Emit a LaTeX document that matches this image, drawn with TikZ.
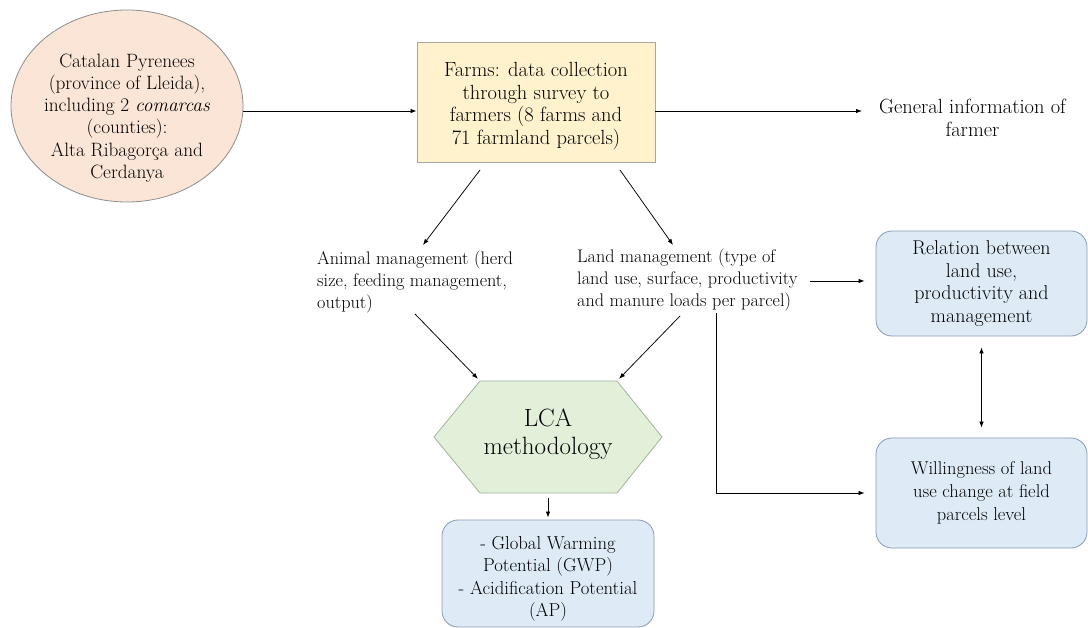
\documentclass[tikz,border=0pt]{standalone}
\usetikzlibrary{arrows.meta,shapes.geometric}

\definecolor{peachfill}{HTML}{FBE5D6}
\definecolor{peachline}{HTML}{8E8E8E}
\definecolor{creamfill}{HTML}{FFF2CC}
\definecolor{creamline}{HTML}{A6A6A6}
\definecolor{sagefill}{HTML}{E2F0D9}
\definecolor{sageline}{HTML}{A3B39B}
\definecolor{skyfill}{HTML}{DEEBF7}
\definecolor{skyline}{HTML}{8A9BB3}

\tikzset{
  txt/.style={font=\fontsize{19.5}{22.8}\selectfont, align=center, inner sep=0pt},
  midtxt/.style={font=\fontsize{18.2}{22}\selectfont, align=left, inner sep=0pt},
  region/.style={ellipse, draw=peachline, fill=peachfill, line width=0.8pt, inner sep=0pt},
  survey/.style={txt, rectangle, draw=creamline, fill=creamfill, line width=0.9pt},
  skybox/.style={txt, rectangle, rounded corners=16pt, draw=skyline, fill=skyfill, line width=0.8pt},
  hexa/.style={draw=sageline, fill=sagefill, line width=0.8pt},
  arr/.style={-{Latex[length=6pt,width=4.5pt]}, line width=0.75pt, black},
  dblarr/.style={{Latex[length=6pt,width=4.5pt]}-{Latex[length=6pt,width=4.5pt]}, line width=0.75pt, black}
}

\begin{document}
\begin{tikzpicture}[x=1pt, y=-1pt]
\useasboundingbox[fill=white] (0,0) rectangle (1088,628);

% study area
\node[region, minimum width=232pt, minimum height=192pt] (reg) at (127,106) {};
\node[txt, font=\fontsize{19.3}{22.3}\selectfont] (regtxt) at (127,118)
  {Catalan Pyrenees\\(province of Lleida),\\including 2 \textit{comarcas}\\(counties):\\Alta Ribagor\c{c}a and\\Cerdanya};

% survey box
\node[survey, minimum width=238pt, minimum height=120pt] (farms) at (536,102) {};
\node[txt, font=\fontsize{20.5}{22.7}\selectfont] (farmstxt) at (536,106)
  {Farms: data collection\\through survey to\\farmers (8 farms and\\71 farmland parcels)};

\node[txt, font=\fontsize{20.5}{23.5}\selectfont, anchor=west] (gen) at (879,118) {General information of\\farmer};

% management texts
\node[midtxt, anchor=north west] (anim) at (317,251)
  {Animal management (herd\\size, feeding management,\\output)};
\node[midtxt, anchor=north west] (land) at (577,249)
  {Land management (type of\\land use, surface, productivity\\and manure loads per parcel)};

% right-hand boxes
\node[skybox, font=\fontsize{20}{22.5}\selectfont, minimum width=211pt, minimum height=105pt] (rel) at (981.5,283.5)
  {Relation between\\land use,\\productivity and\\management};
\node[skybox, font=\fontsize{18.5}{23}\selectfont, minimum width=211pt, minimum height=110pt] (will) at (981.5,493)
  {Willingness of land\\use change at field\\parcels level};

% LCA hexagon
\coordinate (hL)  at (434,437);
\coordinate (hTL) at (480,381);
\coordinate (hTR) at (617,381);
\coordinate (hR)  at (662,437);
\coordinate (hBR) at (617,493);
\coordinate (hBL) at (480,493);
\coordinate (hB)  at (548,493);
\filldraw[hexa] (hL) -- (hTL) -- (hTR) -- (hR) -- (hBR) -- (hBL) -- cycle;
\node[txt, font=\fontsize{25}{27.5}\selectfont] (lca) at (548,434) {LCA\\methodology};

% impact categories
\node[skybox, minimum width=212pt, minimum height=107pt] (res) at (548,573.5) {};
\node[txt, font=\fontsize{18.7}{22.4}\selectfont] (restxt) at (548,579)
  {- Global Warming\\Potential (GWP)\\- Acidification Potential\\(AP)};

% connector end points
\coordinate (regE) at (243,111);
\coordinate (fL) at (480,170);
\coordinate (fR) at (620,170);
\coordinate (animTop) at (423,245);
\coordinate (landTop) at (673,245);
\coordinate (animBot) at (415,314);
\coordinate (landBot) at (680,316);
\coordinate (landR) at (810,281);
\coordinate (landDrop) at (716,313);

% connectors
\draw[arr] (regE) -- (regE -| farms.west);
\draw[arr, shorten >=17pt] (regE -| farms.east) -- (regE -| gen.west);
\draw[arr] (fL) -- (animTop);
\draw[arr] (fR) -- (landTop);
\draw[arr, shorten >=3pt] (animBot) -- (hTL);
\draw[arr, shorten >=3pt] (landBot) -- (hTR);
\draw[arr, shorten <=5pt, shorten >=2pt] (hB) -- (res.north);
\draw[arr, shorten >=11pt] (landR) -- (landR -| rel.west);
\draw[arr, shorten >=11pt] (landDrop) |- (will.west);
\draw[dblarr, shorten <=11pt, shorten >=10pt] (rel.south) -- (will.north);
\end{tikzpicture}
\end{document}
